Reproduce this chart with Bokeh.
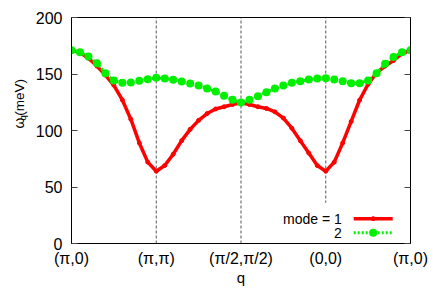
import math
from bokeh.plotting import figure
from bokeh.layouts import row
from bokeh.models import (Range1d, FixedTicker, LinearAxis, Label, ColumnDataSource)
from bokeh.core.properties import value
from bokeh.embed import file_html
from bokeh.resources import INLINE

# ---- data ----
q = [0.0, 0.1, 0.2, 0.3, 0.4, 0.5, 0.6, 0.7, 0.8, 0.9,
     1.0, 1.1, 1.2, 1.3, 1.4, 1.5, 1.6, 1.7, 1.8, 1.9,
     2.0, 2.1, 2.2, 2.3, 2.4, 2.5, 2.6, 2.7, 2.8, 2.9,
     3.0, 3.1, 3.2, 3.3, 3.4, 3.5, 3.6, 3.7, 3.8, 3.9, 4.0]
mode1 = [171, 169, 164, 157, 149, 140, 127, 110, 89, 72,
         64, 69, 79, 91, 101, 109, 115, 119, 121, 123,
         124.5, 123, 121, 119.5, 116.5, 111, 102, 91, 80, 69,
         64, 72, 89, 108, 127, 141, 151, 157, 162, 168, 171]
mode2 = [171, 169.3, 165.5, 159.6, 150.7, 144.2, 142.2, 142.5, 144, 145.4,
         146.6, 146, 144.9, 143.4, 141.6, 139.8, 137.2, 134.5, 130.7, 127.2,
         124.8, 127.2, 130.4, 133.9, 137.2, 139.8, 142.2, 143.6, 145.1, 146,
         146.3, 145.1, 143.6, 141.9, 141.9, 144.2, 150.7, 159, 165, 169.3, 171]
x_ticks = [0, 1, 2, 3, 4]
x_tick_labels = ["(π,0)", "(π,π)", "(π/2,π/2)", "(0,0)", "(π,0)"]
y_ticks = [0, 50, 100, 150, 200]
vlines = [1, 2, 3]
series_labels = ["mode = 1", "2"]
y_label_parts = ["ω", "q", "(meV)"]

FONT = "Liberation Sans"
RED = "#ff0000"
GREEN = "#00f000"
H = 297

# ---- narrow strip holding the rotated y-axis title (omega with subscript q) ----
lab = figure(width=30, height=H, output_backend="svg", toolbar_location=None,
             x_range=Range1d(0, 30), y_range=Range1d(0, H),
             x_axis_type=None, y_axis_type=None, min_border=0)
lab.outline_line_color = None
lab.grid.visible = False
lab.background_fill_color = "white"
lab.border_fill_color = "white"
lab.text(x=[18], y=[151], text=[y_label_parts[0]], angle=math.pi / 2,
         text_align="left", text_baseline="alphabetic",
         text_font=value(FONT), text_font_size="14px", text_color="black")
lab.text(x=[22], y=[161.5], text=[y_label_parts[1]], angle=math.pi / 2,
         text_align="left", text_baseline="alphabetic",
         text_font=value(FONT), text_font_size="9.5px", text_color="black")
lab.text(x=[18.5], y=[168], text=[y_label_parts[2]], angle=math.pi / 2,
         text_align="left", text_baseline="alphabetic",
         text_font=value(FONT), text_font_size="13.5px", text_color="black")

# ---- main plot ----
p = figure(width=398, height=H, output_backend="svg", toolbar_location=None,
           x_range=Range1d(0, 4), y_range=Range1d(0, 200),
           min_border_left=41, min_border_right=18, min_border_top=17, min_border_bottom=54)
p.background_fill_color = "white"
p.border_fill_color = "white"
p.outline_line_color = "black"
p.outline_line_width = 1
p.grid.visible = False

xa = p.xaxis[0]
xa.ticker = FixedTicker(ticks=x_ticks)
xa.major_label_overrides = {t: l for t, l in zip(x_ticks, x_tick_labels)}
xa.major_tick_in = 0
xa.major_tick_out = 0
xa.minor_tick_in = 0
xa.minor_tick_out = 0
xa.axis_line_color = "black"
xa.major_label_text_font = FONT
xa.major_label_text_font_size = "16px"
xa.major_label_text_color = "black"
xa.major_label_standoff = 6
xa.axis_label = "q"
xa.axis_label_text_font = FONT
xa.axis_label_text_font_size = "15px"
xa.axis_label_text_font_style = "normal"
xa.axis_label_text_color = "black"
xa.axis_label_standoff = -1

ya = p.yaxis[0]
ya.ticker = FixedTicker(ticks=y_ticks)
ya.major_tick_in = 6
ya.major_tick_out = 0
ya.minor_tick_in = 0
ya.minor_tick_out = 0
ya.major_tick_line_color = "#444444"
ya.axis_line_color = "black"
ya.major_label_text_font = FONT
ya.major_label_text_font_size = "16px"
ya.major_label_text_color = "black"
ya.major_label_standoff = 9

ra = LinearAxis(ticker=FixedTicker(ticks=y_ticks))
ra.major_tick_in = 6
ra.major_tick_out = 0
ra.minor_tick_in = 0
ra.minor_tick_out = 0
ra.major_tick_line_color = "#444444"
ra.axis_line_color = "black"
ra.major_label_text_color = None
ra.major_label_text_font_size = "1px"
p.add_layout(ra, "right")

# vertical dashed guides
p.segment(x0=vlines, y0=[0] * len(vlines), x1=vlines, y1=[200] * len(vlines),
          line_color="#555555", line_width=1, line_dash="3 2")

# key background (hides guide line behind the key, as gnuplot does)
p.quad(left=[2.45], right=[3.95], bottom=[0.5], top=[36],
       fill_color="white", line_color=None)

src = ColumnDataSource(dict(q=q, m1=mode1, m2=mode2))
p.line("q", "m1", source=src, line_color=RED, line_width=3.5)
p.scatter("q", "m1", source=src, size=4, fill_color=RED, line_color=RED)
p.line("q", "m2", source=src, line_color=GREEN, line_width=3, line_dash="2 2")
p.scatter("q", "m2", source=src, size=8, fill_color=GREEN, line_color=None)

# gnuplot-style key (sample to the right of its text)
key_x0, key_x1, key_xm, key_tx = 3.33, 3.79, 3.56, 3.19
key_y = [22, 9.5]
p.line([key_x0, key_x1], [key_y[0]] * 2, line_color=RED, line_width=3.5)
p.scatter([key_xm], [key_y[0]], size=4, fill_color=RED, line_color=RED)
p.line([key_x0, key_x1], [key_y[1]] * 2, line_color=GREEN, line_width=3, line_dash="2 2")
p.scatter([key_xm], [key_y[1]], size=8, fill_color=GREEN, line_color=None)
for txt, yy in zip(series_labels, key_y):
    p.add_layout(Label(x=key_tx, y=yy, text=txt, text_align="right", text_baseline="middle",
                       text_font=FONT, text_font_size="14px", text_color="black"))

layout = row(lab, p, spacing=0)
open("out.html", "w").write(file_html(layout, INLINE))
